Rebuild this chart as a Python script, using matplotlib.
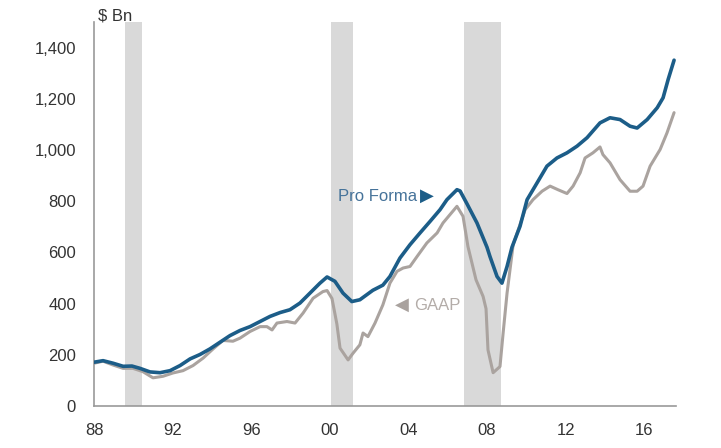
import matplotlib
matplotlib.use("Agg")
import matplotlib.pyplot as plt
from matplotlib.ticker import FuncFormatter

plt.rcParams['font.family'] = ['Liberation Sans', 'DejaVu Sans']

# Pro Forma earnings ($ Bn)
pro_years = [1988.00, 1988.46, 1988.97, 1989.48, 1989.93, 1990.34, 1990.85, 1991.36,
             1991.87, 1992.38, 1992.89, 1993.39, 1993.90, 1994.41, 1994.92, 1995.43,
             1995.94, 1996.45, 1996.96, 1997.47, 1997.97, 1998.48, 1998.99, 1999.50,
             1999.86, 2000.26, 2000.67, 2001.12, 2001.53, 2002.19, 2002.70, 2003.06,
             2003.57, 2004.08, 2004.59, 2005.10, 2005.61, 2005.96, 2006.47, 2006.63,
             2006.98, 2007.49, 2008.00, 2008.15, 2008.51, 2008.76, 2009.02, 2009.27,
             2009.68, 2010.04, 2010.55, 2011.05, 2011.56, 2012.07, 2012.58, 2013.09,
             2013.75, 2014.26, 2014.77, 2015.28, 2015.64, 2016.15, 2016.66, 2016.96,
             2017.22, 2017.52]
pro_forma = [171, 177, 167, 155, 156, 147, 133, 130,
             138, 158, 184, 201, 223, 249, 275, 295,
             310, 330, 350, 365, 376, 402, 441, 480,
             504, 487, 441, 408, 415, 452, 472, 506,
             578, 630, 676, 721, 767, 806, 845, 840,
             790, 715, 620, 584, 506, 480, 545, 620,
             702, 806, 872, 937, 969, 989, 1015, 1048,
             1106, 1126, 1119, 1093, 1086, 1119, 1165, 1204,
             1276, 1351]

# GAAP earnings ($ Bn)
gaap_years = [1988.00, 1988.46, 1988.97, 1989.48, 1989.98, 1990.49, 1991.00, 1991.51,
              1992.02, 1992.53, 1993.04, 1993.55, 1994.06, 1994.56, 1995.07, 1995.43,
              1995.94, 1996.45, 1996.80, 1997.06, 1997.31, 1997.82, 1998.23, 1998.64,
              1999.15, 1999.65, 1999.86, 2000.11, 2000.36, 2000.52, 2000.93, 2001.18,
              2001.53, 2001.69, 2001.94, 2002.30, 2002.70, 2003.06, 2003.42, 2003.73,
              2004.08, 2004.44, 2004.94, 2005.46, 2005.76, 2006.12, 2006.47, 2006.78,
              2007.03, 2007.44, 2007.80, 2007.95, 2008.05, 2008.31, 2008.66, 2008.82,
              2009.02, 2009.33, 2009.94, 2010.34, 2010.80, 2011.21, 2011.61, 2012.07,
              2012.38, 2012.74, 2012.99, 2013.39, 2013.75, 2013.90, 2014.26, 2014.77,
              2015.28, 2015.64, 2015.94, 2016.30, 2016.81, 2017.16, 2017.52]
gaap = [167, 175, 160, 147, 147, 134, 110, 116,
        129, 138, 158, 187, 223, 256, 253, 265,
        291, 310, 310, 297, 324, 330, 324, 363,
        421, 447, 451, 420, 320, 226, 180, 206,
        239, 285, 271, 324, 395, 480, 526, 539,
        545, 584, 637, 676, 715, 748, 780, 741,
        623, 493, 428, 380, 219, 130, 154, 285,
        441, 630, 767, 806, 839, 859, 845, 830,
        859, 911, 969, 989, 1012, 982, 950, 884,
        839, 839, 859, 937, 1002, 1067, 1146]

# recession shading (start, end) in chart years
recessions = [(1989.58, 1990.44), (2000.06, 2001.18), (2006.83, 2008.71)]

x_ticks = [1988, 1992, 1996, 2000, 2004, 2008, 2012, 2016]
x_labels = ['88', '92', '96', '00', '04', '08', '12', '16']
y_ticks = [0, 200, 400, 600, 800, 1000, 1200, 1400]

blue = '#1c5d88'
taupe = '#aaa39f'
label_grey = '#333333'

fig = plt.figure(figsize=(7.21, 4.48), dpi=100)
ax = fig.add_axes([0.1304, 0.0938, 0.8067, 0.857])

for start, end in recessions:
    ax.axvspan(start, end, color='#d9d9d9', lw=0, zorder=0)

ax.plot(gaap_years, gaap, color=taupe, lw=2.2, solid_capstyle='round', zorder=2)
ax.plot(pro_years, pro_forma, color=blue, lw=2.6, solid_capstyle='round', zorder=3)

ax.set_xlim(1988, 2017.6)
ax.set_ylim(0, 1500)
ax.set_xticks(x_ticks)
ax.set_xticklabels(x_labels)
ax.set_yticks(y_ticks)
ax.yaxis.set_major_formatter(FuncFormatter(lambda v, p: f'{int(v):,}'))
ax.tick_params(axis='both', length=0, labelsize=12, labelcolor=label_grey)
ax.tick_params(axis='y', pad=13)
ax.tick_params(axis='x', pad=12)

for side in ['top', 'right']:
    ax.spines[side].set_visible(False)
for side in ['left', 'bottom']:
    ax.spines[side].set_color('#999999')
    ax.spines[side].set_linewidth(1.2)

# unit label
fig.text(98 / 721, 1 - 16 / 448, '$ Bn', fontsize=12, color=label_grey,
         ha='left', va='center')

# series labels
ax.text(2004.44, 820, 'Pro Forma', fontsize=12, color='#46739a',
        ha='right', va='center')
ax.text(2004.6, 822, '\u25B6', fontsize=13, color=blue, ha='left', va='center',
        family=['DejaVu Sans'])
ax.text(2004.29, 394, 'GAAP', fontsize=12, color='#b3aca8', ha='left', va='center')
ax.text(2004.02, 397, '\u25C0', fontsize=13, color='#a9a29e', ha='right', va='center',
        family=['DejaVu Sans'])

fig.savefig('out.png', dpi=100)
